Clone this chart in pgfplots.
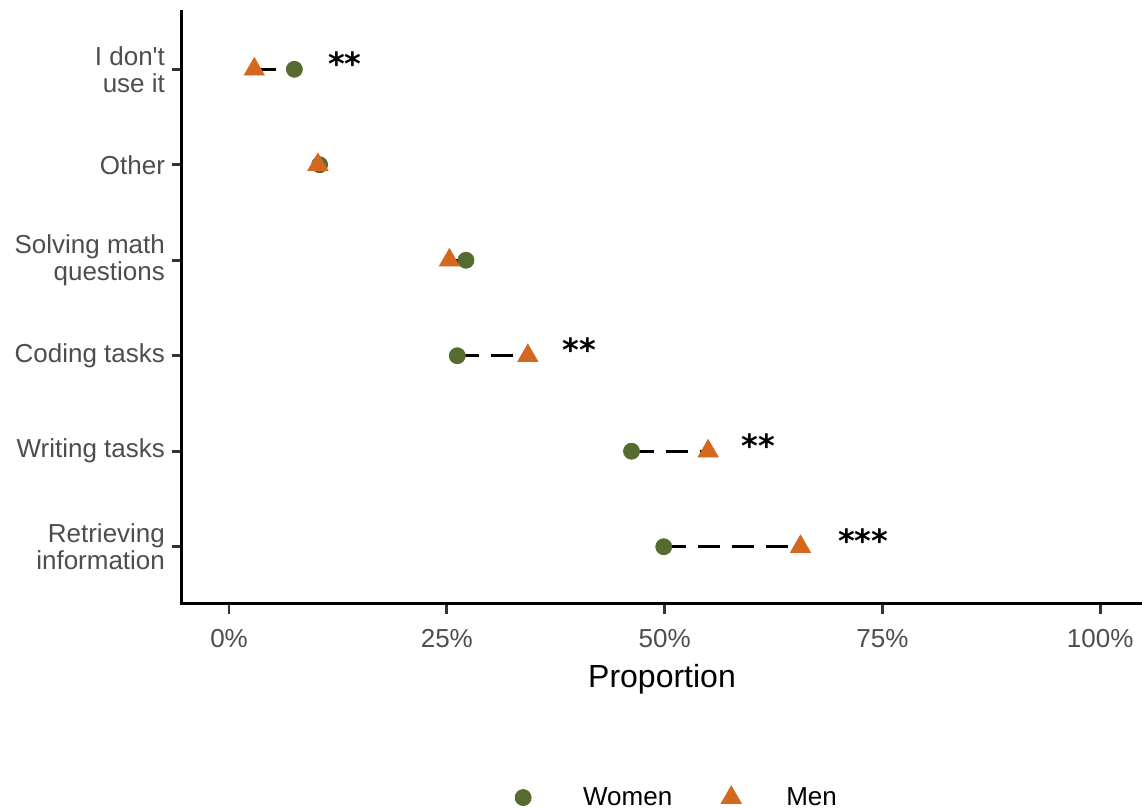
\documentclass[border=0pt]{standalone}
\usepackage{fontspec}
\setmainfont{Liberation Sans}
\newfontfamily\starfont{DejaVu Sans}
\usepackage{pgfplots}
\pgfplotsset{compat=1.18}
\definecolor{women}{HTML}{556B2F}
\definecolor{men}{HTML}{D2691E}
\definecolor{tickgray}{HTML}{4D4D4D}
\definecolor{tickline}{HTML}{333333}
\pgfplotsset{
  legimg/.style={legend image code/.code={%
    \path[draw=none,fill=none] (-8pt,0pt) -- (#1,0pt);
    \path plot[only marks] coordinates {(0pt,0pt)};}},
  seg/.style={forget plot, black, line width=1.5pt, dash pattern=on 11pt off 6pt, mark=none},
}
\begin{document}
\begin{tikzpicture}
\useasboundingbox (-91pt,-102pt) rectangle (480pt,302pt);
\begin{axis}[
  at={(0pt,0pt)}, anchor=south west,
  scale only axis, width=480pt, height=296pt,
  xmin=-5.4, xmax=104.8, ymin=0.4, ymax=6.6,
  axis lines=left,
  axis line style={-, line width=1.5pt, line cap=rect},
  tick align=outside, major tick length=5pt,
  every tick/.style={tickline, line width=1.4pt},
  major tick style={tickline, line width=1.4pt},
  xtick={0,25,50,75,100},
  xticklabels={0\%,25\%,50\%,75\%,100\%},
  ytick={1,2,3,4,5,6},
  yticklabels={Retrieving\\information, Writing tasks, Coding tasks, Solving math\\questions, Other, I don\textquotesingle t\\use it},
  ticklabel style={font=\fontsize{13}{13.5}\selectfont, text=tickgray},
  yticklabel style={align=right},
  xticklabel style={yshift=-4pt},
  xlabel={Proportion},
  xlabel style={font=\fontsize{16}{19}\selectfont, yshift=-1.5pt},
  clip=false,
  legend columns=2,
  legend style={at={(0.5104,-0.326)}, anchor=center, draw=none, fill=none,
    font=\fontsize{13}{15}\selectfont, nodes={inner sep=0pt},
    /tikz/every even column/.append style={column sep=21.5pt}},
]
\addplot[only marks, mark=*, mark size=4pt, color=women, legimg=30pt]
  coordinates {(49.9,1) (46.2,2) (26.2,3) (27.2,4) (10.4,5) (7.5,6)};
\addlegendentry{Women}
\addplot[only marks, mark=triangle*, mark size=5.8pt, color=men, legimg=27.5pt]
  coordinates {(65.6,1) (55.0,2) (34.3,3) (25.3,4) (10.2,5) (2.9,6)};
\addlegendentry{Men}
\addplot[seg] coordinates {(49.9,1) (65.6,1)};
\addplot[seg] coordinates {(46.2,2) (55.0,2)};
\addplot[seg] coordinates {(26.2,3) (34.3,3)};
\addplot[seg] coordinates {(25.3,4) (27.2,4)};
\addplot[seg] coordinates {(10.2,5) (10.4,5)};
\addplot[seg] coordinates {(2.9,6) (7.5,6)};
\addplot[forget plot, only marks, mark=none, nodes near coords, point meta=explicit symbolic,
  nodes near coords style={font=\starfont\bfseries\fontsize{16}{16}\selectfont, text=black, anchor=base, yshift=-3pt}]
  coordinates {(13.3,6) [**] (40.2,3) [**] (60.8,2) [**] (72.8,1) [***]};
\end{axis}
\end{tikzpicture}
\end{document}
